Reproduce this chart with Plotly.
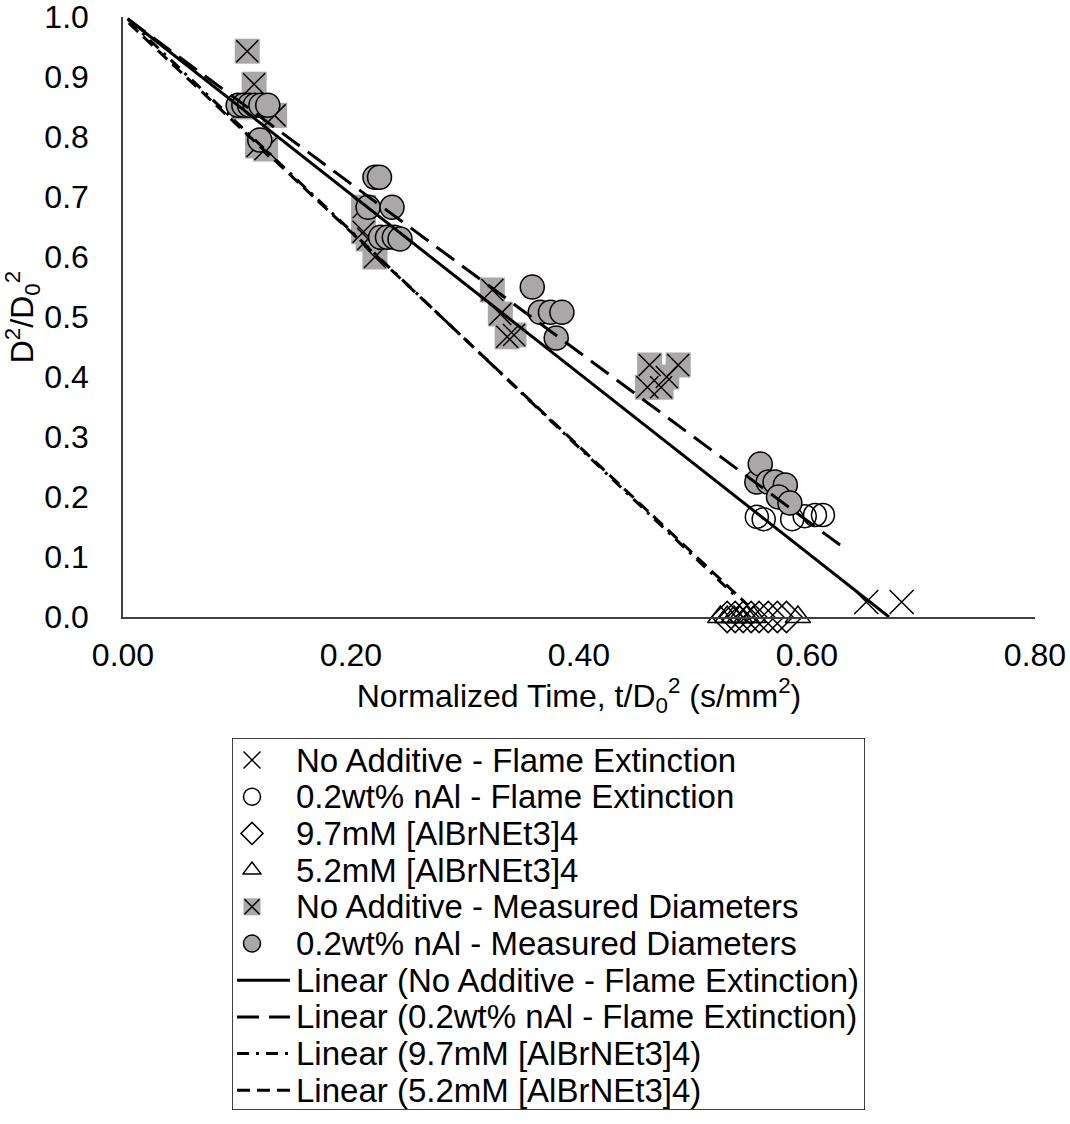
import plotly.graph_objects as go

FONT = "Liberation Sans, Arial, sans-serif"
GRAY = "#A9A7A7"

# ---------------- data ----------------
noadd_ext_x = [0.652, 0.683]
noadd_ext_y = [0.025, 0.025]

nal_ext_x = [0.556, 0.562, 0.587, 0.598, 0.607, 0.614]
nal_ext_y = [0.167, 0.163, 0.163, 0.168, 0.170, 0.170]

mm97_x = [0.530, 0.537, 0.544, 0.551, 0.558, 0.566, 0.574, 0.582]
mm97_y = [0.0, 0.0, 0.0, 0.0, 0.0, 0.0, 0.0, 0.0]

mm52_x = [0.524, 0.530, 0.536, 0.541, 0.547, 0.553, 0.592]
mm52_y = [0.0, 0.0, 0.0, 0.0, 0.0, 0.0, 0.0]

noadd_meas_x = [0.109, 0.115, 0.106, 0.133, 0.118, 0.125,
                0.211, 0.211, 0.215, 0.221,
                0.324, 0.331, 0.337, 0.343,
                0.462, 0.487, 0.460, 0.472, 0.477]
noadd_meas_y = [0.943, 0.888, 0.850, 0.836, 0.785, 0.780,
                0.683, 0.642, 0.630, 0.600,
                0.545, 0.505, 0.467, 0.470,
                0.420, 0.420, 0.383, 0.383, 0.400]

nal_meas_x = [0.101, 0.106, 0.111, 0.116, 0.121, 0.127, 0.120,
              0.221, 0.225, 0.215, 0.236, 0.226, 0.232, 0.238, 0.243,
              0.359, 0.366, 0.375, 0.385, 0.380,
              0.556, 0.559, 0.566, 0.572, 0.581, 0.575, 0.585]
nal_meas_y = [0.853, 0.853, 0.853, 0.853, 0.853, 0.853, 0.795,
              0.733, 0.733, 0.683, 0.683, 0.633, 0.633, 0.633, 0.630,
              0.550, 0.508, 0.508, 0.508, 0.465,
              0.225, 0.255, 0.225, 0.225, 0.220, 0.200, 0.190]

# linear trend lines (end points)
fit_noadd_x = [0.004, 0.672]
fit_noadd_y = [0.997, 0.000]
fit_nal_x = [0.004, 0.629]
fit_nal_y = [0.997, 0.120]
fit_97_x = [0.005, 0.540]
fit_97_y = [0.995, 0.030]
fit_52_x = [0.005, 0.548]
fit_52_y = [0.990, 0.020]

x_ticks = [0.0, 0.2, 0.4, 0.6, 0.8]
x_tick_labels = ["0.00", "0.20", "0.40", "0.60", "0.80"]
y_ticks = [0.0, 0.1, 0.2, 0.3, 0.4, 0.5, 0.6, 0.7, 0.8, 0.9, 1.0]
y_tick_labels = ["0.0", "0.1", "0.2", "0.3", "0.4", "0.5", "0.6", "0.7", "0.8", "0.9", "1.0"]

series_names = [
    "No Additive - Flame Extinction",
    "0.2wt% nAl - Flame Extinction",
    "9.7mM [AlBrNEt3]4",
    "5.2mM [AlBrNEt3]4",
    "No Additive - Measured Diameters",
    "0.2wt% nAl - Measured Diameters",
]
fit_names = ["Linear (" + n + ")" for n in series_names[:4]]

# ---------------- styles ----------------
LW = 1.5
styles = {
    "noadd_ext": dict(symbol="x-thin-open", color="black", line=dict(color="black", width=LW)),
    "nal_ext": dict(symbol="circle-open", color="black", line=dict(color="black", width=LW)),
    "mm97": dict(symbol="diamond-open", color="black", line=dict(color="black", width=LW)),
    "mm52": dict(symbol="triangle-up-open", color="black", line=dict(color="black", width=LW)),
}
fit_dash = ["solid", "22px,10px", "12px,7px,3px,7px", "13px,7px"]

fig = go.Figure()

fig.add_trace(go.Scatter(x=noadd_ext_x, y=noadd_ext_y, mode="markers", name=series_names[0],
                         cliponaxis=False, marker=dict(size=24, **styles["noadd_ext"])))
fig.add_trace(go.Scatter(x=nal_ext_x, y=nal_ext_y, mode="markers", name=series_names[1],
                         cliponaxis=False, marker=dict(size=23, **styles["nal_ext"])))
fig.add_trace(go.Scatter(x=mm97_x, y=mm97_y, mode="markers", name=series_names[2],
                         cliponaxis=False, marker=dict(size=24, **styles["mm97"])))
fig.add_trace(go.Scatter(x=mm52_x, y=mm52_y, mode="markers", name=series_names[3],
                         cliponaxis=False, marker=dict(size=22, **styles["mm52"])))
fig.add_trace(go.Scatter(x=noadd_meas_x, y=noadd_meas_y, mode="markers", name=series_names[4],
                         marker=dict(symbol="square", size=25, color=GRAY, line=dict(width=0))))
fig.add_trace(go.Scatter(x=noadd_meas_x, y=noadd_meas_y, mode="markers", name=series_names[4],
                         marker=dict(symbol="x-thin", size=22, color="black",
                                     line=dict(color="black", width=LW))))
fig.add_trace(go.Scatter(x=nal_meas_x, y=nal_meas_y, mode="markers", name=series_names[5],
                         marker=dict(symbol="circle", size=24, color=GRAY,
                                     line=dict(color="black", width=LW))))

for fx, fy, nm, dash in zip([fit_noadd_x, fit_nal_x, fit_97_x, fit_52_x],
                            [fit_noadd_y, fit_nal_y, fit_97_y, fit_52_y],
                            fit_names, fit_dash):
    fig.add_trace(go.Scatter(x=fx, y=fy, mode="lines", name=nm,
                             line=dict(color="black", width=3, dash=dash)))

# ---------------- legend (drawn in its own hidden axes, pixel units) ----------------
LEG_W, LEG_H = 633, 372
ROW0, PITCH = 22, 36.7
SYM_X, LINE_X0, LINE_X1, TEXT_X = 20, 5, 58, 62
rows = [ROW0 + i * PITCH for i in range(10)]

leg_markers = [
    (dict(size=17, **styles["noadd_ext"]),),
    (dict(size=17, **styles["nal_ext"]),),
    (dict(size=17, **styles["mm97"]),),
    (dict(size=16, **styles["mm52"]),),
    (dict(symbol="square", size=17, color=GRAY, line=dict(width=0)),
     dict(symbol="x-thin", size=15, color="black", line=dict(color="black", width=LW))),
    (dict(symbol="circle", size=17, color=GRAY, line=dict(color="black", width=LW)),),
]
for i, mk in enumerate(leg_markers):
    for m in mk:
        fig.add_trace(go.Scatter(x=[SYM_X], y=[rows[i]], mode="markers", marker=m,
                                 xaxis="x2", yaxis="y2", hoverinfo="skip"))
for j, dash in enumerate(fit_dash):
    fig.add_trace(go.Scatter(x=[LINE_X0, LINE_X1], y=[rows[6 + j]] * 2, mode="lines",
                             line=dict(color="black", width=3, dash=dash),
                             xaxis="x2", yaxis="y2", hoverinfo="skip"))

leg_texts = series_names + fit_names
annotations = [
    dict(x=TEXT_X, y=rows[i], xref="x2", yref="y2", text=t, showarrow=False,
         xanchor="left", yanchor="middle", font=dict(family=FONT, size=33, color="black"))
    for i, t in enumerate(leg_texts)
]

PAPER_H = 1124 - 17
fig.update_layout(
    width=1070, height=1124,
    margin=dict(l=123, r=35, t=17, b=0, autoexpand=False),
    paper_bgcolor="white", plot_bgcolor="white",
    font=dict(family=FONT, size=32, color="black"),
    showlegend=False,
    annotations=annotations,
    shapes=[dict(type="rect", xref="x2", yref="y2", x0=0, x1=LEG_W, y0=0, y1=LEG_H,
                 line=dict(color="black", width=1.5), layer="below")],
    xaxis=dict(
        domain=[0, 1], range=[0, 0.8], tickmode="array", tickvals=x_ticks, ticktext=x_tick_labels,
        showgrid=False, zeroline=False, showline=True, linecolor="#404040", linewidth=1.5,
        ticks="", ticklabelstandoff=9, tickfont=dict(size=32), ticklabeloverflow="allow",
        title=dict(text="Normalized Time, t/D<sub>0</sub><sup>2</sup> (s/mm<sup>2</sup>)",
                   font=dict(size=32), standoff=8),
    ),
    yaxis=dict(
        domain=[(1124 - 617) / PAPER_H, 1], range=[0, 1.0], tickmode="array",
        tickvals=y_ticks, ticktext=y_tick_labels,
        showgrid=False, zeroline=False, showline=True, linecolor="#404040", linewidth=1.5,
        ticks="", ticklabelstandoff=26, tickfont=dict(size=32), ticklabeloverflow="allow",
        title=dict(text="D<sup>2</sup>/D<sub>0</sub><sup>2</sup>", font=dict(size=32), standoff=2),
    ),
    xaxis2=dict(domain=[(232 - 123) / 912, (232 + LEG_W - 123) / 912], range=[0, LEG_W],
                visible=False, anchor="y2", fixedrange=True),
    yaxis2=dict(domain=[(1124 - 738 - LEG_H) / PAPER_H, (1124 - 738) / PAPER_H],
                range=[LEG_H, 0], visible=False, anchor="x2", fixedrange=True),
)

fig.write_html("out.html")
